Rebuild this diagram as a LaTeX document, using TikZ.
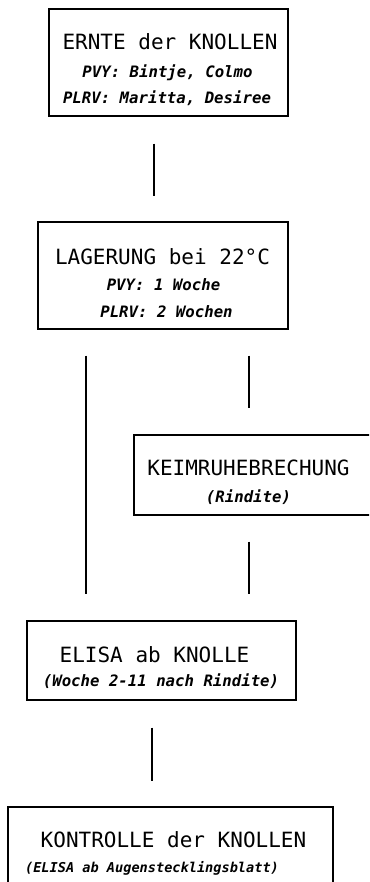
\documentclass[tikz,border=0pt]{standalone}
\usepackage{fontspec}
\newfontfamily\plotfont{DejaVu Sans Mono}
\begin{document}
\begin{tikzpicture}[x=1pt,y=-1pt,
  box/.style={draw,line width=1.1pt,rectangle,inner sep=0pt},
  ttl/.style={inner sep=0pt,anchor=center,text height=15.4pt,text depth=0pt,font=\plotfont\fontsize{21}{25}\selectfont},
  sub/.style={inner sep=0pt,anchor=center,text height=11pt,text depth=0pt,font=\plotfont\bfseries\itshape\fontsize{15.7}{19}\selectfont},
  conn/.style={line width=1.1pt}]
\useasboundingbox (0,0) rectangle (369,882);
\clip (0,0) rectangle (369,882);
% boxes
\node[box,minimum width=239pt,minimum height=107pt] (b1) at (168.5,62.5) {};
\node[box,minimum width=250pt,minimum height=107pt] (b2) at (163,275.5) {};
\node[box,minimum width=240pt,minimum height=80pt] (b3) at (254,475) {};
\node[box,minimum width=269pt,minimum height=79pt] (b4) at (161.5,660.5) {};
\node[box,minimum width=325pt,minimum height=100pt] (b5) at (170.5,857) {};
% texts
\node[ttl] (t1) at (170,42) {ERNTE der KNOLLEN};
\node[sub] (s1a) at (167.5,72) {PVY: Bintje, Colmo};
\node[sub] (s1b) at (167,98) {PLRV: Maritta, Desiree};
\node[ttl] (t2) at (162.5,257) {LAGERUNG bei 22°C};
\node[sub] (s2a) at (163.5,285) {PVY: 1 Woche};
\node[sub] (s2b) at (166.5,312) {PLRV: 2 Wochen};
\node[ttl] (t3) at (248.5,468) {KEIMRUHEBRECHUNG};
\node[sub] (s3) at (248.5,497) {(Rindite)};
\node[ttl] (t4) at (154.5,655) {ELISA ab KNOLLE};
\node[sub] (s4) at (161,681) {(Woche 2-11 nach Rindite)};
\node[ttl] (t5) at (173.5,840) {KONTROLLE der KNOLLEN};
\node[sub,font=\plotfont\bfseries\itshape\fontsize{13.6}{17}\selectfont] (s5) at (152,867) {(ELISA ab Augenstecklingsblatt)};
% connectors
\draw[conn,shorten <=27pt,shorten >=25pt] ([xshift=-14.5pt]b1.south) -- ([xshift=-14.5pt]b1.south |- b2.north);
\draw[conn,shorten <=26pt,shorten >=26pt] ([xshift=-77pt]b2.south) -- ([xshift=-77pt]b2.south |- b4.north);
\draw[conn,shorten <=26pt,shorten >=26pt] ([xshift=86pt]b2.south) -- ([xshift=86pt]b2.south |- b3.north);
\draw[conn,shorten <=26pt,shorten >=26pt] ([xshift=-5pt]b3.south) -- ([xshift=-5pt]b3.south |- b4.north);
\draw[conn,shorten <=27pt,shorten >=25pt] ([xshift=-9.5pt]b4.south) -- ([xshift=-9.5pt]b4.south |- b5.north);
\end{tikzpicture}
\end{document}
